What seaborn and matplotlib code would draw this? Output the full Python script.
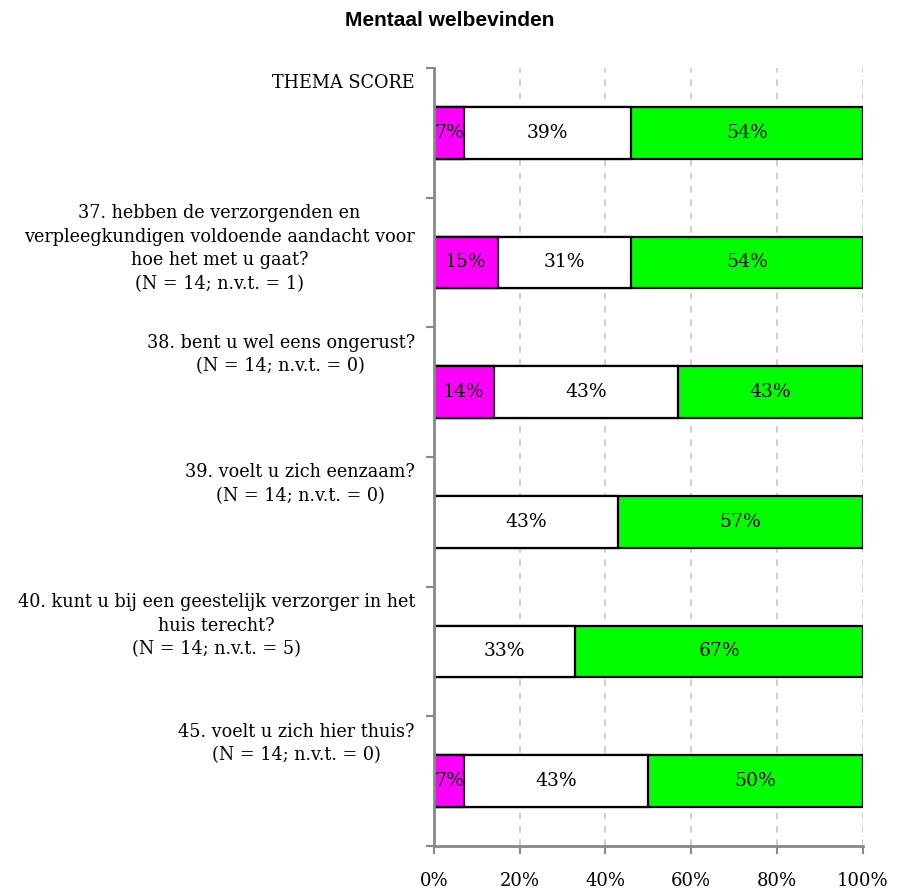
import numpy as np
import pandas as pd
import matplotlib
matplotlib.use("Agg")
import matplotlib.pyplot as plt
import matplotlib.transforms as mtransforms
import seaborn as sns

# Survey items (top to bottom) and answer shares in percent
categories = [
    "THEMA SCORE",
    "37. hebben de verzorgenden en\nverpleegkundigen voldoende aandacht voor\nhoe het met u gaat?\n(N = 14; n.v.t. = 1)",
    "38. bent u wel eens ongerust?\n(N = 14; n.v.t. = 0)",
    "39. voelt u zich eenzaam?\n(N = 14; n.v.t. = 0)",
    "40. kunt u bij een geestelijk verzorger in het\nhuis terecht?\n(N = 14; n.v.t. = 5)",
    "45. voelt u zich hier thuis?\n(N = 14; n.v.t. = 0)",
]
negatief = [7, 15, 14, 0, 0, 7]
neutraal = [39, 31, 43, 43, 33, 43]
positief = [54, 54, 43, 57, 67, 50]
x_ticks = [0, 20, 40, 60, 80, 100]
x_ticklabels = ["0%", "20%", "40%", "60%", "80%", "100%"]
title = "Mentaal welbevinden"

colors = {"neg": "#FF00FF", "neu": "#FFFFFF", "pos": "#00FF00"}

df = pd.DataFrame({
    "item": categories,
    "neg": negatief,
    "neu": neutraal,
    "pos": positief,
})
df["cum_neg"] = df["neg"]
df["cum_neu"] = df["neg"] + df["neu"]
df["cum_pos"] = df["neg"] + df["neu"] + df["pos"]

sns.set_theme(style="white")
plt.rcParams["text.color"] = "black"
serif = ["DejaVu Serif"]

fig = plt.figure(figsize=(9.0, 8.92), dpi=100)
ax = fig.add_axes([0.482, 0.0516, 0.4767, 0.8722])

# Stacked bars: draw cumulative totals from the largest to the smallest
for cum_col, key in [("cum_pos", "pos"), ("cum_neu", "neu"), ("cum_neg", "neg")]:
    sns.barplot(data=df, x=cum_col, y="item", orient="h", color=colors[key],
                saturation=1, width=0.4, edgecolor="black", linewidth=1.6,
                ax=ax, zorder=3)

# Segment value labels
for i, row in df.iterrows():
    left = 0
    for key in ["neg", "neu", "pos"]:
        val = row[key]
        if val > 0:
            ax.text(left + val / 2, i, f"{val}%", ha="center", va="center",
                    fontsize=13.5, family=serif, color="black", zorder=5)
        left += val

ax.set_xlim(0, 100)
ax.set_ylim(len(categories) - 0.5, -0.5)
ax.set_xticks(x_ticks)
ax.set_xticklabels(x_ticklabels, family=serif, fontsize=13)
ax.set_yticks(np.arange(-0.5, len(categories), 1))
ax.set_yticklabels([])
ax.set_xlabel("")
ax.set_ylabel("")

ax.tick_params(axis="x", direction="out", length=6, width=1.5, color="#888888",
               labelcolor="black", pad=13, bottom=True)
ax.tick_params(axis="y", direction="out", length=6, width=1.5, color="#888888",
               left=True)

ax.xaxis.grid(True, linestyle=(0, (4, 4)), color="#c8c8c8", linewidth=1.2, zorder=0)
ax.yaxis.grid(False)
ax.set_axisbelow(True)

for side in ["top", "right"]:
    ax.spines[side].set_visible(False)
for side in ["left", "bottom"]:
    ax.spines[side].set_color("#888888")
    ax.spines[side].set_linewidth(2)
    ax.spines[side].set_zorder(6)

# Item labels sit at the top of each band, left of the bar
trans = mtransforms.blended_transform_factory(ax.transAxes, ax.transData)
for i, label in enumerate(categories):
    ax.text(-0.044, i - 0.45, label, transform=trans, ha="right", va="top",
            multialignment="center", fontsize=12.7, family=serif,
            linespacing=1.4, color="black")

fig.text(0.5, 0.977, title, ha="center", va="center", fontsize=15,
         fontweight="bold", color="black",
         family=["Liberation Sans Narrow", "Liberation Sans"])

fig.savefig("out.png", dpi=100, facecolor="white")
